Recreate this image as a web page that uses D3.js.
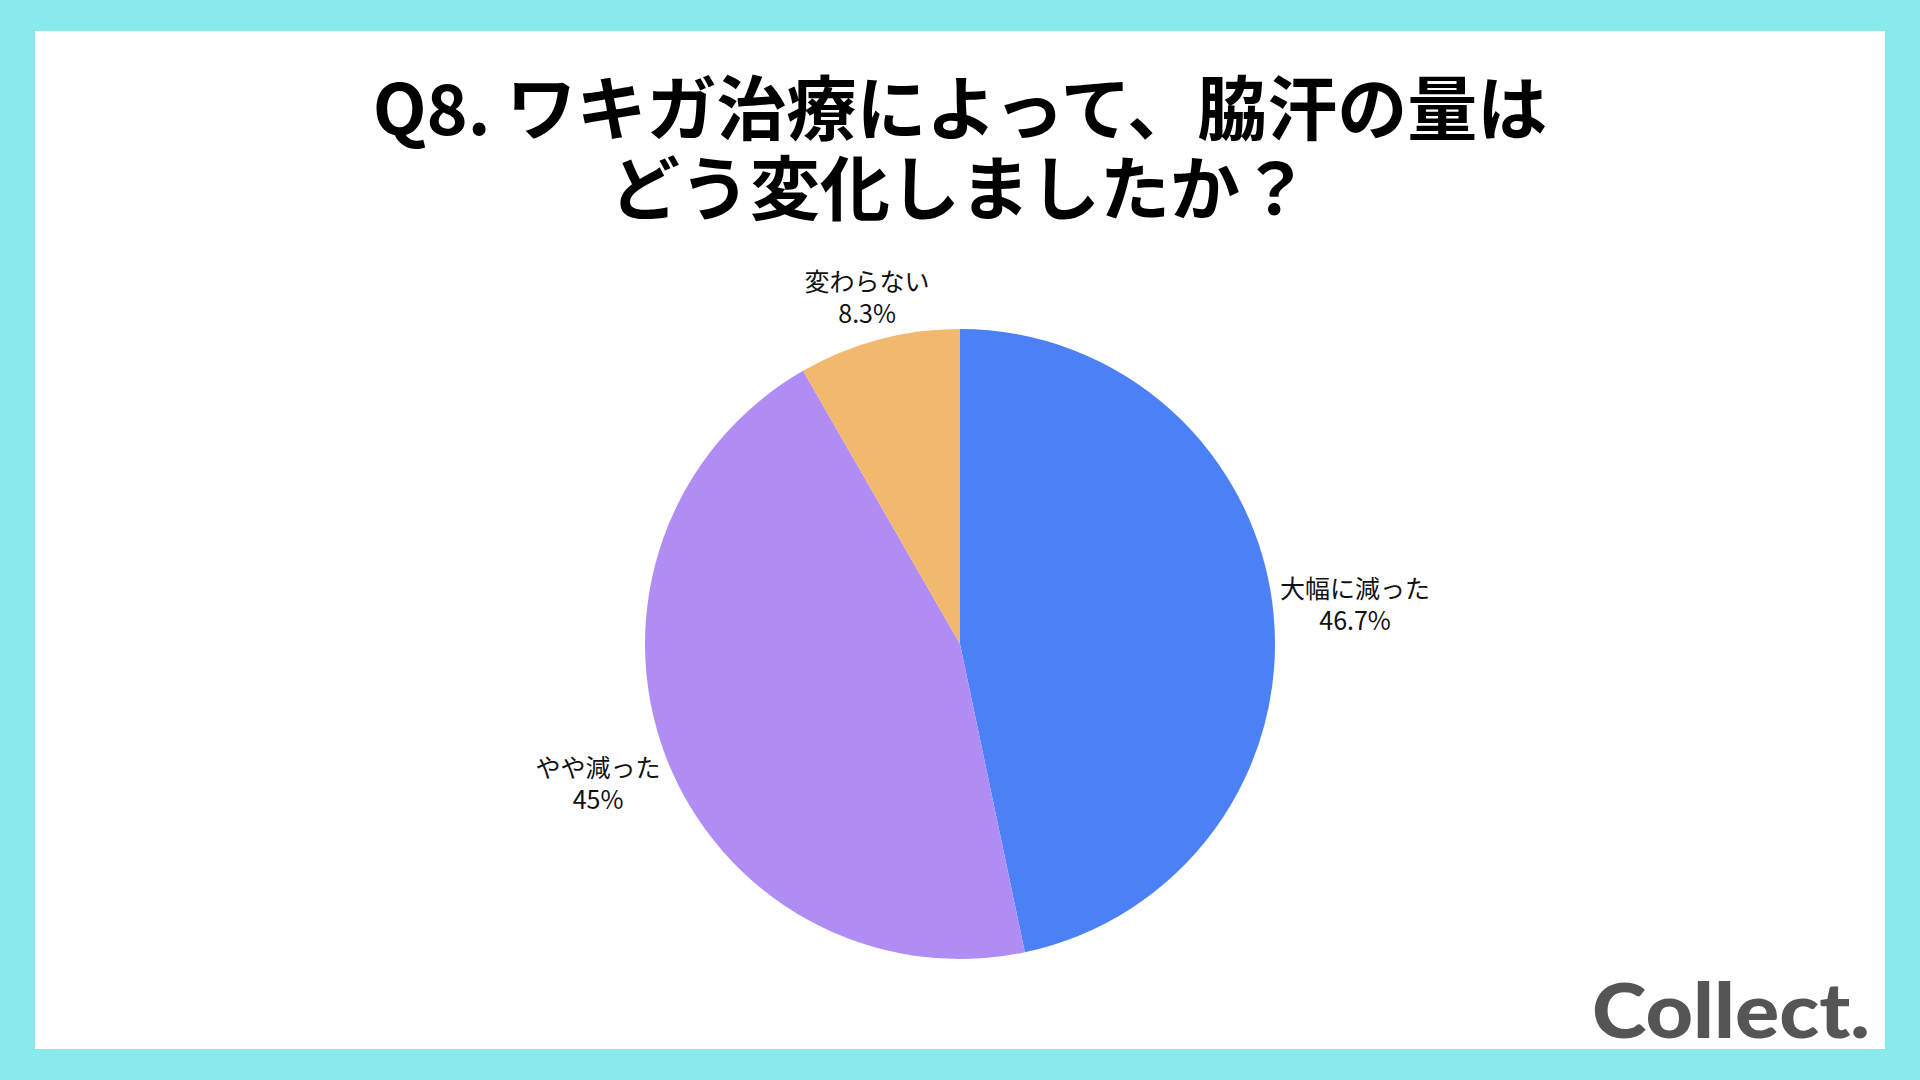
<!DOCTYPE html>
<html><head><meta charset="utf-8">
<script src="https://cdn.jsdelivr.net/npm/d3@7"></script>
<style>html,body{margin:0;padding:0;background:#8ae9ed;}svg{display:block;}</style>
</head><body>
<svg id="chart" width="1920" height="1080"></svg>
<script>
const categories = ["大幅に減った", "やや減った", "変わらない"];
const values = [46.7, 45, 8.3];
const valueLabels = ["46.7%", "45%", "8.3%"];
const colors = ["#4b80f6", "#af8df4", "#f2b86e"];
const titleLines = ["Q8. ワキガ治療によって、脇汗の量は", "どう変化しましたか？"];

const svg = d3.select("#chart");
svg.append("rect").attr("width",1920).attr("height",1080).attr("fill","#8ae9ed");
svg.append("rect").attr("x",35).attr("y",31).attr("width",1850).attr("height",1018).attr("fill","#ffffff");

const font = "'Noto Sans CJK JP','Noto Sans',sans-serif";
const title = svg.append("text")
  .attr("text-anchor","middle").attr("dominant-baseline","central")
  .attr("font-family",font).attr("font-weight",700).attr("font-size",70).attr("fill","#000");
title.selectAll("tspan").data(titleLines).join("tspan")
  .attr("x",960).attr("y",(d,i)=>104+i*80).text(d=>d);

const cx=960, cy=644, r=315;
const pie = d3.pie().sort(null).value(d=>d.v);
const arcs = pie(categories.map((c,i)=>({c, v:values[i], lab:valueLabels[i], col:colors[i]})));
const arc = d3.arc().innerRadius(0).outerRadius(r);
const g = svg.append("g").attr("transform",`translate(${cx},${cy})`);
g.selectAll("path").data(arcs).join("path").attr("d",arc).attr("fill",d=>d.data.col);

const fs = 25, gap = 5, hh = 25;
const lt = g.selectAll("text.lab").data(arcs).join("text").attr("class","lab")
  .attr("text-anchor","middle").attr("dominant-baseline","central")
  .attr("font-family",font).attr("font-size",fs).attr("fill","#111");
lt.append("tspan").attr("class","t1").attr("x",0).attr("y",-16).text(d=>d.data.c);
lt.append("tspan").attr("x",0).attr("y",16).text(d=>d.data.lab);
lt.attr("transform",function(d){
  const a=(d.startAngle+d.endAngle)/2, dx=Math.sin(a), dy=-Math.cos(a);
  const hw=d3.select(this).select("tspan.t1").node().getComputedTextLength()/2;
  const dist=r+gap+Math.abs(dx)*hw+Math.abs(dy)*hh;
  return `translate(${dx*dist},${dy*dist})`;
});

svg.append("text").attr("x",1592).attr("y",1038)
  .attr("font-family","Lato, 'Open Sans', sans-serif").attr("font-weight",900).attr("font-size",76)
  .attr("textLength",278).attr("lengthAdjust","spacingAndGlyphs")
  .attr("fill","#555555").text("Collect.");
</script>
</body></html>
